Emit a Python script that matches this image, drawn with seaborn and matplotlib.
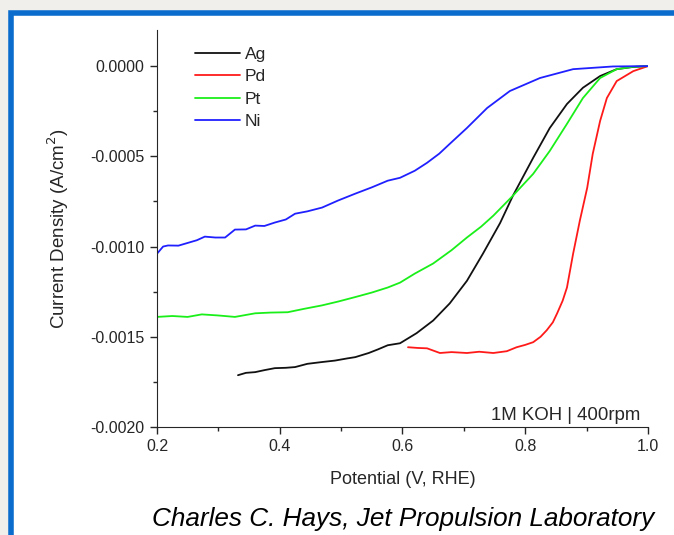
import numpy as np
import pandas as pd
import matplotlib.pyplot as plt
import matplotlib.patches as patches
import seaborn as sns

# Werte (Potential in V vs. RHE, Stromdichte in A/cm2)
ag_v = [0.332, 0.345, 0.36, 0.375, 0.392, 0.41, 0.425, 0.445, 0.469, 0.49, 0.51, 0.523,
        0.545, 0.56, 0.576, 0.596, 0.623, 0.65, 0.677, 0.705, 0.731, 0.759, 0.78,
        0.813, 0.84, 0.868, 0.894, 0.922, 0.949, 0.975, 1.0]
ag_j = [-0.001713, -0.001700, -0.001696, -0.001685, -0.001674, -0.001672, -0.001668,
        -0.001650, -0.001640, -0.001632, -0.001620, -0.001613, -0.001590, -0.001570,
        -0.001547, -0.001536, -0.00148, -0.00141, -0.001315, -0.00119, -0.00104,
        -0.00087, -0.000718, -0.000508, -0.000343, -0.00021, -0.00012, -0.000055,
        -0.000017, -0.000005, 0.0]

pd_v = [0.609, 0.625, 0.64, 0.661, 0.68, 0.705, 0.725, 0.748, 0.77, 0.786, 0.80, 0.813,
        0.825, 0.835, 0.845, 0.852, 0.861, 0.868, 0.878, 0.889, 0.901, 0.910, 0.922,
        0.933, 0.949, 0.976, 1.0]
pd_j = [-0.001558, -0.001562, -0.001564, -0.00159, -0.001585, -0.00159, -0.001583,
        -0.00159, -0.00158, -0.001558, -0.001545, -0.00153, -0.00150, -0.001464,
        -0.00142, -0.00137, -0.00130, -0.001227, -0.00104, -0.000856, -0.000674,
        -0.000486, -0.000304, -0.000177, -0.000083, -0.000028, 0.0]

pt_v = [0.2, 0.225, 0.25, 0.273, 0.3, 0.327, 0.36, 0.385, 0.413, 0.44, 0.469, 0.495,
        0.523, 0.55, 0.576, 0.596, 0.62, 0.65, 0.68, 0.705, 0.728, 0.748, 0.78, 0.813,
        0.84, 0.868, 0.894, 0.922, 0.949, 0.975, 1.0]
pt_j = [-0.00139, -0.001385, -0.00139, -0.001376, -0.001382, -0.00139, -0.00137,
        -0.001366, -0.001364, -0.001345, -0.001326, -0.001305, -0.00128, -0.001255,
        -0.001227, -0.0012, -0.00115, -0.001094, -0.00102, -0.00095, -0.00089,
        -0.000829, -0.000718, -0.000597, -0.00047, -0.00032, -0.000177, -0.000066,
        -0.000017, -0.000004, 0.0]

ni_v = [0.2, 0.21, 0.218, 0.235, 0.25, 0.265, 0.278, 0.295, 0.311, 0.327, 0.345, 0.36,
        0.375, 0.392, 0.41, 0.425, 0.445, 0.469, 0.495, 0.523, 0.55, 0.576, 0.596,
        0.62, 0.64, 0.66, 0.677, 0.705, 0.738, 0.775, 0.824, 0.878, 0.943, 1.0]
ni_j = [-0.00104, -0.00100, -0.000994, -0.000995, -0.00098, -0.000965, -0.000945,
        -0.00095, -0.00095, -0.000906, -0.000905, -0.000884, -0.000886, -0.000867,
        -0.00085, -0.000818, -0.000805, -0.000784, -0.000745, -0.000707, -0.000672,
        -0.000635, -0.000619, -0.00058, -0.000536, -0.000485, -0.000431, -0.000343,
        -0.000232, -0.000138, -0.000066, -0.000017, -0.000002, 0.0]

metals = ["Ag", "Pd", "Pt", "Ni"]
farben = ["#111111", "#ff1a1a", "#1aef1a", "#2020ff"]

df = pd.concat([
    pd.DataFrame({"Potential": ag_v, "J": ag_j, "Metall": "Ag"}),
    pd.DataFrame({"Potential": pd_v, "J": pd_j, "Metall": "Pd"}),
    pd.DataFrame({"Potential": pt_v, "J": pt_j, "Metall": "Pt"}),
    pd.DataFrame({"Potential": ni_v, "J": ni_j, "Metall": "Ni"}),
], ignore_index=True)

sns.set_style("ticks")
plt.rcParams["font.family"] = ["Liberation Sans", "DejaVu Sans"]

fig = plt.figure(figsize=(6.74, 5.35), dpi=100)
fig.patch.set_facecolor("#f1efec")
# weisses Feld mit blauem Rahmen
fig.patches.append(patches.Rectangle((0.0165, -0.05), 1.05, 1.026, transform=fig.transFigure,
                                     facecolor="white", edgecolor="#0a6ccc", linewidth=4,
                                     zorder=-10))

ax = fig.add_axes([0.2329, 0.2019, 0.7285, 0.742])
ax.set_zorder(5)
ax.set_facecolor("none")
sns.lineplot(data=df, x="Potential", y="J", hue="Metall", hue_order=metals,
             palette=dict(zip(metals, farben)), sort=False, estimator=None,
             linewidth=1.3, ax=ax)

ax.set_xlim(0.2, 1.0)
ax.set_ylim(-0.002, 0.0002)
ax.set_xticks([0.2, 0.4, 0.6, 0.8, 1.0])
ax.set_xticks([0.3, 0.5, 0.7, 0.9], minor=True)
ax.set_yticks([-0.002, -0.0015, -0.001, -0.0005, 0.0])
ax.set_yticks([-0.00175, -0.00125, -0.00075, -0.00025], minor=True)
ax.set_xticklabels(["0.2", "0.4", "0.6", "0.8", "1.0"])
ax.set_yticklabels(["-0.0020", "-0.0015", "-0.0010", "-0.0005", "0.0000"])
ax.tick_params(which="major", direction="out", length=5, width=1, labelsize=11.5, pad=4)
ax.tick_params(which="minor", direction="out", length=3, width=1)
sns.despine(ax=ax)
ax.set_xlabel("Potential (V, RHE)", fontsize=13, labelpad=12)
ax.set_ylabel("Current Density (A/cm$^2$)", fontsize=13.5, labelpad=14)

ax.legend(title=None, frameon=False, loc="upper left", bbox_to_anchor=(0.045, 0.997),
          fontsize=12.5, handlelength=2.6, labelspacing=0.42, handletextpad=0.3)

ax.text(0.985, 0.028, "1M KOH | 400rpm", transform=ax.transAxes, ha="right",
        va="center", fontsize=13.4)
fig.text(0.97, 0.029, "Charles C. Hays, Jet Propulsion Laboratory", ha="right",
         va="center", fontsize=18.8, style="italic", color="black")

plt.savefig("out.png", dpi=100)
plt.close()
